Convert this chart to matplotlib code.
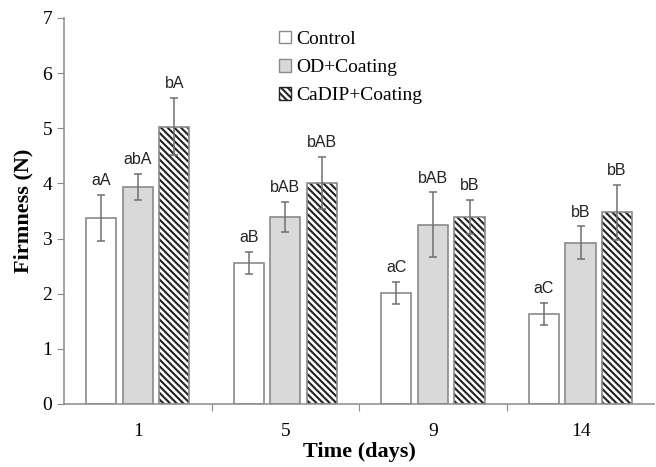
import matplotlib.pyplot as plt
import numpy as np
from matplotlib.patches import Patch

days = ['1', '5', '9', '14']
series = ['Control', 'OD+Coating', 'CaDIP+Coating']
control = [3.37, 2.56, 2.02, 1.63]
control_err = [0.42, 0.20, 0.20, 0.20]
od = [3.93, 3.39, 3.25, 2.92]
od_err = [0.24, 0.28, 0.59, 0.30]
cadip = [5.03, 4.01, 3.39, 3.48]
cadip_err = [0.52, 0.47, 0.31, 0.50]
letters_control = ['aA', 'aB', 'aC', 'aC']
letters_od = ['abA', 'bAB', 'bAB', 'bB']
letters_cadip = ['bA', 'bAB', 'bB', 'bB']

serif = ['Liberation Serif', 'DejaVu Serif']
sans = ['Liberation Sans', 'DejaVu Sans']
edge = '#8a8a8a'
plt.rcParams['hatch.linewidth'] = 1.5

fig = plt.figure(figsize=(6.56, 4.67), dpi=100)
ax = fig.add_axes([0.0975, 0.135, 0.9, 0.8265])

x = np.arange(len(days))
w = 0.205
step = 0.248

# control
ax.bar(x - step, control, w, color='white', edgecolor=edge, linewidth=1.2, zorder=2)
# OD + coating
ax.bar(x, od, w, color='#d9d9d9', edgecolor=edge, linewidth=1.2, zorder=2)
# CaDIP + coating: hatch drawn first, outline on top
ax.bar(x + step, cadip, w, color='white', edgecolor='#222222', linewidth=0,
       hatch='\\\\\\\\\\', zorder=2)
ax.bar(x + step, cadip, w, color='none', edgecolor=edge, linewidth=1.2, zorder=3)

for off, vals, errs, labs in [(-step, control, control_err, letters_control),
                              (0, od, od_err, letters_od),
                              (step, cadip, cadip_err, letters_cadip)]:
    ax.errorbar(x + off, vals, yerr=errs, fmt='none', ecolor='#707070',
                elinewidth=1.1, capsize=3, capthick=1.1, zorder=4)
    for xi, v, e, t in zip(x + off, vals, errs, labs):
        ax.text(xi, v + e + 0.12, t, ha='center', va='bottom',
                fontsize=11.5, family=sans, color='#222222')

ax.set_xlim(-0.5, 3.5)
ax.set_ylim(0, 7)
ax.set_yticks(range(8))
ax.set_xticks([0.5, 1.5, 2.5])
ax.set_xticklabels([])
ax.set_xticks(x, minor=True)
ax.set_xticklabels(days, minor=True, fontsize=14, family=serif)
ax.tick_params(axis='x', which='minor', length=0, pad=14)
ax.tick_params(axis='x', which='major', length=5, color=edge, direction='out')
ax.tick_params(axis='y', length=5, color=edge, labelsize=14)
for lab in ax.get_yticklabels():
    lab.set_family(serif)

for s in ['top', 'right']:
    ax.spines[s].set_visible(False)
for s in ['left', 'bottom']:
    ax.spines[s].set_color(edge)
    ax.spines[s].set_linewidth(1.1)

ax.set_xlabel('Time (days)', fontsize=16, fontweight='bold', family=serif, labelpad=1)
ax.set_ylabel('Firmness (N)', fontsize=16, fontweight='bold', family=serif, labelpad=6)

handles = [Patch(facecolor='white', edgecolor=edge),
           Patch(facecolor='#d9d9d9', edgecolor=edge),
           Patch(facecolor='white', edgecolor='#222222', hatch='\\\\\\\\\\')]
ax.legend(handles, series, loc='upper left', bbox_to_anchor=(0.335, 1.012),
          frameon=False, handlelength=0.6, handleheight=0.6, handletextpad=0.25,
          labelspacing=0.58, prop={'family': serif, 'size': 14})

fig.savefig('out.png', dpi=100)
